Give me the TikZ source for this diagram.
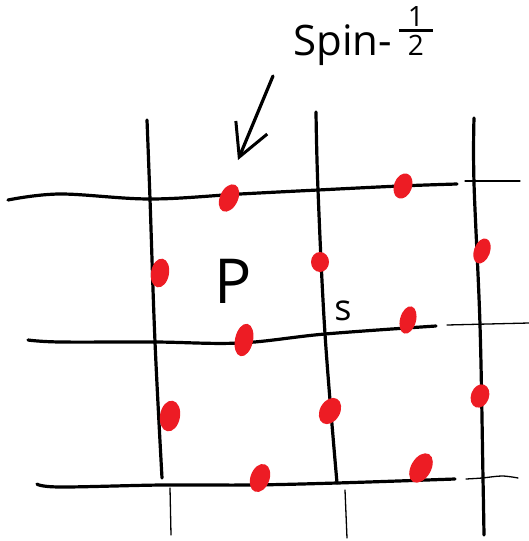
\documentclass[tikz,border=0pt]{standalone}
\usepackage{fontspec}
\setmainfont{Open Sans}
\usetikzlibrary{shapes.geometric, arrows.meta}
\definecolor{spinred}{RGB}{237,28,36}

\begin{document}
\begin{tikzpicture}[
    x=1pt, y=-1pt,
    bond/.style={line width=3.2pt, line cap=round},
    stub/.style={line width=1.3pt, line cap=round},
    spin/.style={ellipse, fill=spinred, inner sep=0pt, minimum width=18pt, minimum height=29pt},
    label/.style={inner sep=0pt}
]
    \useasboundingbox (0,0) rectangle (529,541);

    % Lattice sites (crossings)
    \coordinate (v11) at (150,199);
    \coordinate (v12) at (318,190);
    \coordinate (v13) at (474,183);
    \coordinate (v21) at (155,342);
    \coordinate (v22) at (325,334);
    \coordinate (v23) at (480,325);
    \coordinate (v31) at (162,485);
    \coordinate (v32) at (337,483);
    \coordinate (v33) at (483,478);

    % Horizontal bonds
    \draw[bond] plot[smooth, tension=0.6] coordinates {(8,200) (60,194) (v11) (240,194) (v12) (400,186) (457,184)};
    \draw[bond] plot[smooth, tension=0.6] coordinates {(28,340) (60,342) (v21) (240,343) (v22) (436,326)};
    \draw[bond] plot[smooth, tension=0.6] coordinates {(37,484) (60,487) (v31) (250,485) (v32) (455,479)};

    % Vertical bonds
    \draw[bond] plot[smooth, tension=0.6] coordinates {(147,120) (v11) (v21) (162,478)};
    \draw[bond] plot[smooth, tension=0.6] coordinates {(316,112) (v12) (v22) (v32)};
    \draw[bond] plot[smooth, tension=0.6] coordinates {(474,118) (v13) (v23) (v33) (484,535)};

    % Loose ends
    \draw[stub] (465,181) -- (520,181);
    \draw[stub] (447,325) -- (529,323);
    \draw[stub] plot[smooth, tension=0.6] coordinates {(466,479) (482,478) (502,476) (518,478)};
    \draw[stub] (170,488) -- (171,535);
    \draw[stub] (345,490) -- (347,538);

    % Spins on the links
    \node[spin, rotate=-25] (s1) at (229,198) {};
    \node[spin, rotate=-20, minimum height=26pt] (s2) at (403,186) {};
    \node[spin, rotate=-10] (s3) at (160,273) {};
    \node[spin, minimum height=20pt] (s4) at (320,262) {};
    \node[spin, rotate=-20, minimum width=16pt, minimum height=26pt] (s5) at (482,251) {};
    \node[spin, rotate=-12, minimum height=33pt] (s6) at (244,340) {};
    \node[spin, rotate=-15, minimum width=16pt, minimum height=28pt] (s7) at (408,320) {};
    \node[spin, rotate=-10, minimum width=20pt, minimum height=31pt] (s8) at (170,416) {};
    \node[spin, rotate=-30, minimum width=20pt, minimum height=28pt] (s9) at (330,411) {};
    \node[spin, rotate=-20, minimum height=24pt] (s10) at (480,396) {};
    \node[spin, rotate=-20, minimum width=19pt, minimum height=29pt] (s11) at (260,478) {};
    \node[spin, rotate=-30, minimum width=20pt, minimum height=32pt] (s12) at (421,468) {};

    % Labels
    \node[label, anchor=base west, font=\fontsize{42}{48}\selectfont] (title) at (293,55)
        {Spin-\,{\fontsize{28}{28}\selectfont\vbox{\hbox to 34pt{\hss 1\hss}\kern2pt
          \hrule height 3pt\kern3pt\hbox to 34pt{\hss 2\hss}}}};
    \node[label, font=\fontsize{62}{70}\selectfont] (plaq) at (233,281) {P};
    \node[label, font=\fontsize{36}{40}\selectfont] (site) at (343,311) {s};

    % Pointer to a spin
    \coordinate (tail) at (273,76);
    \coordinate (tip) at (238,160);
    \draw[bond, -{Straight Barb[length=32pt, width=34pt, line width=3pt]}] (tail) -- (tip);
\end{tikzpicture}
\end{document}
